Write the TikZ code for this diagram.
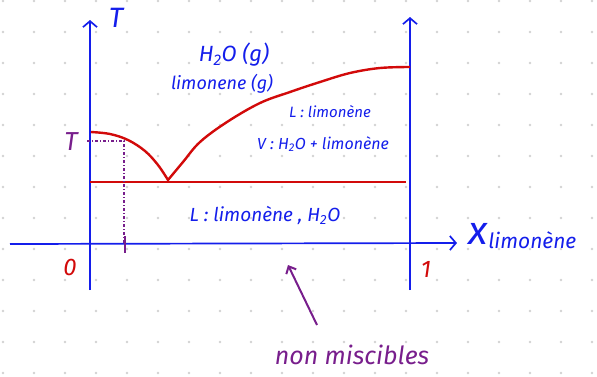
\documentclass[tikz,border=0pt]{standalone}
\usepackage{fontspec}
\setmainfont{Fira Sans}
\usetikzlibrary{arrows.meta}
\definecolor{penblue}{RGB}{20,30,235}
\definecolor{penred}{RGB}{210,10,10}
\definecolor{penpurple}{RGB}{120,30,140}
\newcommand{\fs}[1]{\fontsize{#1}{#1}\selectfont\itshape}

\begin{document}
\begin{tikzpicture}[
  x=1pt, y=-1pt,
  axis/.style={draw=penblue, line width=1.7pt, -{Straight Barb[length=6pt, width=14pt, line width=1.7pt]}},
  curve/.style={draw=penred, line width=2.4pt, line join=round},
  bluetext/.style={text=penblue, inner sep=0pt},
  redtext/.style={text=penred, inner sep=0pt},
  purpletext/.style={text=penpurple, inner sep=0pt},
  guide/.style={draw=penpurple, line width=1.1pt, dash pattern=on 3pt off 2pt on 1pt off 2pt},
  note/.style={draw=penpurple, line width=2pt, -{Straight Barb[length=6pt, width=11pt, line width=2pt]}}
]
\useasboundingbox (0,0) rectangle (597,376);
% dot grid
\foreach \i in {0,...,19}
  \foreach \j in {0,...,12}
    \fill[gray!35] (3+31*\i, 1+31*\j) circle (1.3pt);

% axes
\coordinate (o) at (90,290);
\coordinate (ytop) at (90,20);
\coordinate (xleft) at (10,244);
\coordinate (xright) at (457,243);
\coordinate (rbot) at (410,290);
\coordinate (rtop) at (410,17);
\draw[axis] (o) -- (ytop);
\draw[axis] (rbot) -- (rtop);
\draw[axis] (xleft) -- (xright);

\node[bluetext, font=\fs{28}] (tlab) at (116,18) {T};
\node[redtext, font=\fs{24}] (zero) at (70,267) {0};
\node[redtext, font=\fs{24}] (one) at (426,269) {1};
\node[bluetext, anchor=west] (xlab) at (468,236) {{\fs{40}x}\kern1pt\raisebox{-4pt}{\fs{21}limonène}};

% curves
\draw[curve] plot[smooth, tension=0.6] coordinates {(91,132) (110,134) (128,140) (145,151) (158,165) (168,180)}
  -- plot[smooth, tension=0.6] coordinates {(168,180) (183,162) (200,142) (227,122) (260,103) (290,92) (320,82) (350,73) (380,68) (410,67)};
\coordinate (ya) at (90,182);
\coordinate (yb) at (406,182);
\draw[draw=penred, line width=2pt] (ya) -- (yb);

% reading at T
\node[purpletext, font=\fs{26}] (tval) at (71,142) {T};
\coordinate (ga) at (87,141);
\coordinate (gb) at (124,141);
\coordinate (gc) at (124,244);
\draw[guide] (ga) -- (gb) -- (gc);
\coordinate (ta) at (125,236);
\coordinate (tb) at (125,253);
\draw[draw=penpurple, line width=2pt] (ta) -- (tb);

% domains
\node[bluetext, font=\fs{22}] (gas) at (234,55) {H\textsubscript{2}O (g)};
\node[bluetext, font=\fs{18}] (gaslim) at (222,84) {limonene (g)};
\node[bluetext, font=\fs{15}] (liq) at (330,112) {L : limonène};
\node[bluetext, font=\fs{16}] (vap) at (323,144) {V : H\textsubscript{2}O + limonène};
\node[bluetext, font=\fs{19}] (both) at (265,215) {L : limonène , H\textsubscript{2}O};

% remark
\coordinate (na) at (317,325);
\coordinate (nb) at (288,265);
\draw[note] (na) -- (nb);
\node[purpletext, font=\fs{25}] (nomix) at (352,355) {non miscibles};
\end{tikzpicture}
\end{document}
